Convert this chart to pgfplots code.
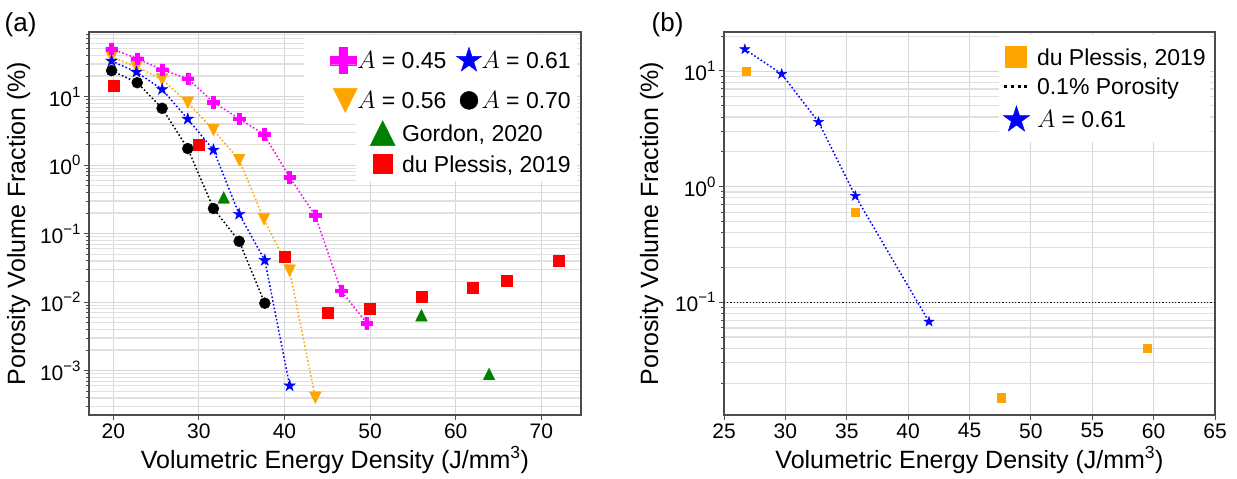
\documentclass[border=0pt]{standalone}
\usepackage{pgfplots}
\pgfplotsset{compat=1.18}
\usepackage{fontspec}
\setmainfont{Liberation Sans}

\definecolor{cMag}{RGB}{255,0,255}
\definecolor{cOrg}{RGB}{255,165,0}
\definecolor{cBlu}{RGB}{0,0,255}
\definecolor{cGrn}{RGB}{0,128,0}
\definecolor{cRed}{RGB}{255,0,0}

% filled plus (arms one third of the full width)
\pgfdeclareplotmark{fatplus}{%
  \pgfmathsetlengthmacro\pa{\pgfplotmarksize}%
  \pgfmathsetlengthmacro\pb{\pgfplotmarksize/3}%
  \pgfpathmoveto{\pgfpoint{-\pb}{-\pa}}%
  \pgfpathlineto{\pgfpoint{-\pb}{-\pb}}%
  \pgfpathlineto{\pgfpoint{-\pa}{-\pb}}%
  \pgfpathlineto{\pgfpoint{-\pa}{\pb}}%
  \pgfpathlineto{\pgfpoint{-\pb}{\pb}}%
  \pgfpathlineto{\pgfpoint{-\pb}{\pa}}%
  \pgfpathlineto{\pgfpoint{\pb}{\pa}}%
  \pgfpathlineto{\pgfpoint{\pb}{\pb}}%
  \pgfpathlineto{\pgfpoint{\pa}{\pb}}%
  \pgfpathlineto{\pgfpoint{\pa}{-\pb}}%
  \pgfpathlineto{\pgfpoint{\pb}{-\pb}}%
  \pgfpathlineto{\pgfpoint{\pb}{-\pa}}%
  \pgfpathclose\pgfusepathqfillstroke}
% filled five-point star
\pgfdeclareplotmark{fstar}{%
  \pgfpathmoveto{\pgfpointpolar{90}{\pgfplotmarksize}}%
  \pgfpathlineto{\pgfpointpolar{126}{0.381966\pgfplotmarksize}}%
  \pgfpathlineto{\pgfpointpolar{162}{\pgfplotmarksize}}%
  \pgfpathlineto{\pgfpointpolar{198}{0.381966\pgfplotmarksize}}%
  \pgfpathlineto{\pgfpointpolar{234}{\pgfplotmarksize}}%
  \pgfpathlineto{\pgfpointpolar{270}{0.381966\pgfplotmarksize}}%
  \pgfpathlineto{\pgfpointpolar{306}{\pgfplotmarksize}}%
  \pgfpathlineto{\pgfpointpolar{342}{0.381966\pgfplotmarksize}}%
  \pgfpathlineto{\pgfpointpolar{18}{\pgfplotmarksize}}%
  \pgfpathlineto{\pgfpointpolar{54}{0.381966\pgfplotmarksize}}%
  \pgfpathclose\pgfusepathqfillstroke}
% triangles as wide as they are tall
\pgfdeclareplotmark{triup}{%
  \pgfpathmoveto{\pgfpoint{0pt}{\pgfplotmarksize}}%
  \pgfpathlineto{\pgfpoint{-\pgfplotmarksize}{-\pgfplotmarksize}}%
  \pgfpathlineto{\pgfpoint{\pgfplotmarksize}{-\pgfplotmarksize}}%
  \pgfpathclose\pgfusepathqfillstroke}
\pgfdeclareplotmark{tridown}{%
  \pgfpathmoveto{\pgfpoint{0pt}{-\pgfplotmarksize}}%
  \pgfpathlineto{\pgfpoint{-\pgfplotmarksize}{\pgfplotmarksize}}%
  \pgfpathlineto{\pgfpoint{\pgfplotmarksize}{\pgfplotmarksize}}%
  \pgfpathclose\pgfusepathqfillstroke}

\newcommand{\dec}[1]{10\raisebox{0.42em}{\fontsize{15}{15}\selectfont #1}}
\newcommand{\labfont}{\fontsize{25}{25}\selectfont}

\pgfplotsset{
  every axis/.append style={
    scale only axis,
    axis line style={black!70, line width=1.1pt},
    tick align=outside, tick pos=left,
    major tick length=5pt, minor tick length=3pt,
    tick style={black!70, line width=1pt},
    xmajorgrids=true, ymajorgrids=true, yminorgrids=true,
    major grid style={black!16, line width=0.9pt},
    minor grid style={black!12, line width=1.2pt},
    tick label style={font=\fontsize{21}{21}\selectfont},
    legend cell align=left,
  },
  dotln/.style={line width=1.5pt, dash pattern=on 1.6pt off 2.2pt},
  % legend image: invisible box of width #1, one mark at #2
  limg/.style 2 args={legend image code/.code={%
    \pgfpathrectanglecorners{\pgfpoint{0pt}{-10pt}}{\pgfpoint{#1}{10pt}}\pgfusepath{discard}%
    \draw[##1] plot coordinates {(#2,0pt)};}},
  limgline/.style={legend image code/.code={%
    \pgfpathrectanglecorners{\pgfpoint{0pt}{-10pt}}{\pgfpoint{30.3pt}{10pt}}\pgfusepath{discard}%
    \draw[##1] (-2.5pt,0pt) -- (21pt,0pt);}},
}
\tikzset{
  legbox/.style={draw=none, fill=white, inner xsep=6pt, column sep=0pt,
    font=\fontsize{23}{23}\selectfont,
    nodes={inner sep=0pt, text height=19pt, text depth=2.6pt}},
}

\begin{document}
\begin{tikzpicture}
\useasboundingbox (0pt,0pt) rectangle (1237pt,479pt);

% ---------------- panel (a) ----------------
\begin{axis}[ymode=log, at={(89pt,64pt)}, anchor=south west,
  width=492pt, height=383pt,
  xmin=17.16, xmax=74.64, ymin=2.255e-4, ymax=88,
  xtick={20,30,40,50,60,70},
  xticklabel style={/pgf/number format/assume math mode=true},
  ytick={1e-3,1e-2,1e-1,1,10},
  yticklabels={\dec{−3},\dec{−2},\dec{−1},\dec{0},\dec{1}},
  minor ytick={3e-4,4e-4,5e-4,6e-4,7e-4,8e-4,9e-4,
    2e-3,3e-3,4e-3,5e-3,6e-3,7e-3,8e-3,9e-3,
    0.02,0.03,0.04,0.05,0.06,0.07,0.08,0.09,
    0.2,0.3,0.4,0.5,0.6,0.7,0.8,0.9,
    2,3,4,5,6,7,8,9,20,30,40,50,60,70,80},
  xlabel={Volumetric Energy Density (J/mm\textsuperscript{3})},
  ylabel={Porosity Volume Fraction (\%)},
  every axis x label/.style={at={(axis description cs:0.5,-0.1384)}, anchor=base, font=\labfont},
  every axis y label/.style={at={(axis description cs:-0.130,0.5)}, rotate=90, anchor=base, font=\labfont},
  legend columns=2,
  legend style={legbox, at={(1,1)}, anchor=north east, xshift=-4pt, yshift=-3pt,
    inner ysep=12pt, row sep=15pt,
    /tikz/every even column/.append style={column sep=7.5pt}},
]
\addlegendimage{only marks, mark=fatplus, mark size=13pt, cMag, limg={46pt}{33pt}}
\addlegendentry{$A$ = 0.45}
\addlegendimage{only marks, mark=fstar, mark size=13.2pt, cBlu, limg={27pt}{15pt}}
\addlegendentry{$A$ = 0.61}
\addlegendimage{only marks, mark=tridown, mark size=12pt, cOrg, limg={46pt}{35pt}}
\addlegendentry{$A$ = 0.56}
\addlegendimage{only marks, mark=*, mark size=9pt, black, limg={27pt}{15pt}}
\addlegendentry{$A$ = 0.70}

% A = 0.56
\addplot[cOrg, dotln, mark=tridown, mark size=5.8pt, mark options={solid, line width=0.4pt}, forget plot]
  coordinates {(19.8,38) (22.7,27.4) (25.7,17.9) (28.7,8.17) (31.7,3.27)
    (34.7,1.19) (37.6,0.163) (40.6,0.0288) (43.6,4.04e-4)};
% A = 0.45
\addplot[cMag, dotln, mark=fatplus, mark size=5.85pt, mark options={solid, line width=0.4pt}, forget plot]
  coordinates {(19.8,50.0) (22.8,35.9) (25.7,24.8) (28.7,18.3) (31.7,8.3)
    (34.7,4.77) (37.6,2.82) (40.6,0.668) (43.6,0.184) (46.6,0.0147) (49.6,0.00497)};
% A = 0.61
\addplot[cBlu, dotln, mark=fstar, mark size=6.1pt, mark options={solid, line width=0.4pt}, forget plot]
  coordinates {(19.8,33.2) (22.7,22.9) (25.7,12.8) (28.7,4.72) (31.7,1.67)
    (34.7,0.193) (37.7,0.0409) (40.6,6.04e-4)};
% A = 0.70
\addplot[black, dotln, mark=*, mark size=5.5pt, mark options={solid, line width=0.4pt}, forget plot]
  coordinates {(19.8,24.0) (22.8,16.0) (25.7,6.77) (28.7,1.75) (31.7,0.233)
    (34.7,0.0775) (37.7,0.00967)};
% Gordon, 2020
\addplot[cGrn, only marks, mark=triup, mark size=5.8pt, mark options={line width=0.4pt}, forget plot]
  coordinates {(32.9,0.338) (56.0,0.00644) (63.9,8.95e-4)};
% du Plessis, 2019
\addplot[cRed, only marks, mark=square*, mark size=5.5pt, mark options={line width=0.4pt}, forget plot]
  coordinates {(20,14.7) (30,2.0) (40,0.0461) (45,0.00708) (50,0.00817)
    (56,0.0121) (62,0.0164) (66,0.0205) (72,0.0409)};
\end{axis}

% second legend of panel (a)
\begin{axis}[at={(89pt,64pt)}, anchor=south west,
  width=492pt, height=383pt, hide axis,
  xmin=0, xmax=1, ymin=0, ymax=1,
  legend style={legbox, at={(1,1)}, anchor=north east, xshift=-4pt, yshift=-82.5pt,
    inner ysep=6pt, row sep=7.4pt},
]
\addlegendimage{only marks, mark=triup, mark size=12.5pt, cGrn, limg={40pt}{20.7pt}}
\addlegendentry{Gordon, 2020}
\addlegendimage{only marks, mark=square*, mark size=9.5pt, cRed, limg={40pt}{20.7pt}}
\addlegendentry{du Plessis, 2019}
\end{axis}

% ---------------- panel (b) ----------------
\begin{axis}[ymode=log, at={(724pt,64pt)}, anchor=south west,
  width=491pt, height=383pt,
  xmin=25, xmax=65, ymin=0.0106, ymax=21.74,
  xtick={25,30,35,40,45,50,55,60,65},
  xticklabel style={/pgf/number format/assume math mode=true},
  ytick={0.1,1,10},
  yticklabels={\dec{−1},\dec{0},\dec{1}},
  minor ytick={0.02,0.03,0.04,0.05,0.06,0.07,0.08,0.09,
    0.2,0.3,0.4,0.5,0.6,0.7,0.8,0.9,2,3,4,5,6,7,8,9,20},
  xlabel={Volumetric Energy Density (J/mm\textsuperscript{3})},
  ylabel={Porosity Volume Fraction (\%)},
  every axis x label/.style={at={(axis description cs:0.5,-0.1384)}, anchor=base, font=\labfont},
  every axis y label/.style={at={(axis description cs:-0.1344,0.5)}, rotate=90, anchor=base, font=\labfont},
  legend style={legbox, at={(1,1)}, anchor=north east, xshift=-5pt, yshift=-3pt,
    inner xsep=4pt, inner ysep=11pt, row sep=8.2pt},
]
\addlegendimage{only marks, mark=square*, mark size=10.3pt, cOrg, limg={30.3pt}{9pt}}
\addlegendentry{du Plessis, 2019}
\addlegendimage{black, line width=3pt, dash pattern=on 3pt off 3.7pt, limgline}
\addlegendentry{0.1\% Porosity}
\addlegendimage{only marks, mark=fstar, mark size=14pt, cBlu, limg={30.3pt}{9.7pt}}
\addlegendentry{$A$ = 0.61}

% du Plessis, 2019
\addplot[cOrg, only marks, mark=square*, mark size=4.2pt, mark options={line width=0.4pt}, forget plot]
  coordinates {(26.8,10.0) (35.7,0.604) (47.6,0.015) (59.5,0.040)};
% 0.1 % porosity threshold
\addplot[black, line width=1.2pt, dash pattern=on 1.2pt off 2pt, forget plot]
  coordinates {(25,0.1) (65,0.1)};
% A = 0.61
\addplot[cBlu, dotln, mark=fstar, mark size=5.3pt, mark options={solid, line width=0.4pt}, forget plot]
  coordinates {(26.7,15.4) (29.7,9.42) (32.7,3.62) (35.7,0.831) (41.7,0.0679)};
\end{axis}

\node[anchor=base west, inner sep=0pt, font=\fontsize{26}{26}\selectfont] at (4.5pt,447.4pt) {(a)};
\node[anchor=base west, inner sep=0pt, font=\fontsize{26}{26}\selectfont] at (651.5pt,447.4pt) {(b)};
\end{tikzpicture}
\end{document}
